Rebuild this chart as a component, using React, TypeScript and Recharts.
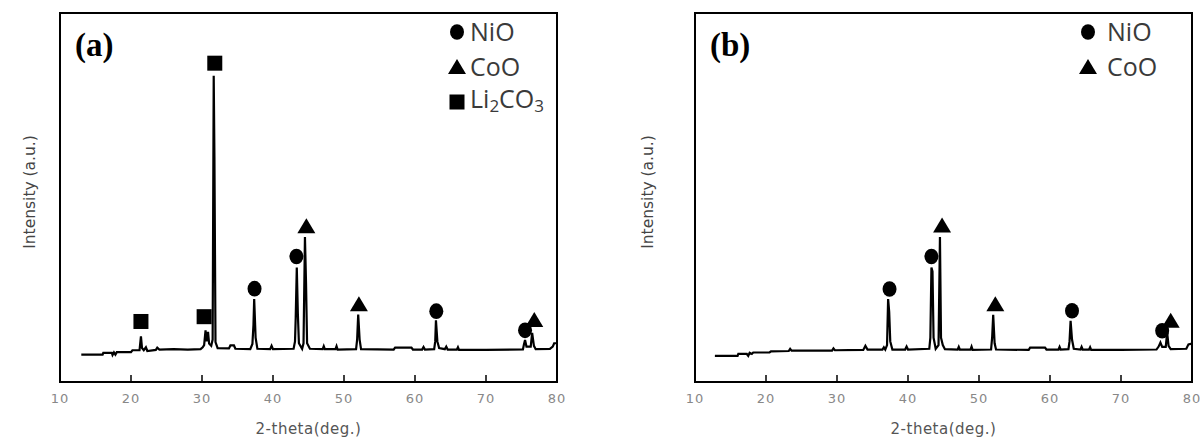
import React from 'react'
import { ComposedChart, Line, Scatter, XAxis, YAxis, ReferenceArea, Legend } from 'recharts'

const xTicks = [10, 20, 30, 40, 50, 60, 70, 80]

// XRD scans: [2-theta (deg.), intensity (a.u., 0-100 of frame)]
const traceA: [number, number][] = [
  [13.0, 7.4], [16.0, 7.4], [16.1, 7.9], [17.3, 7.9], [17.4, 7.3], [17.6, 8.0], [17.8, 7.4], [18.0, 8.1],
  [20.0, 8.1], [20.2, 8.6], [21.2, 8.6], [21.4, 12.4], [21.55, 9.2], [21.8, 8.6], [22.1, 9.4], [22.3, 8.4],
  [23.5, 8.7], [23.7, 9.3], [24.0, 8.8], [26.0, 8.9], [28.0, 8.8], [29.8, 8.9], [30.1, 9.4], [30.3, 10.0],
  [30.5, 14.0], [30.65, 11.0], [30.85, 13.6], [31.0, 10.4], [31.3, 9.8], [31.5, 11.5], [31.65, 83.0],
  [31.75, 61.0], [31.9, 10.8], [32.2, 9.2], [33.8, 9.1], [34.0, 9.9], [34.5, 9.9], [34.7, 9.0],
  [36.8, 8.9], [37.1, 10.3], [37.25, 15.5], [37.35, 22.5], [37.55, 12.0], [37.8, 9.0],
  [39.6, 8.9], [39.8, 9.8], [40.0, 8.9], [42.9, 9.0], [43.1, 11.0], [43.2, 17.5], [43.35, 31.0],
  [43.5, 18.5], [43.65, 10.5], [44.1, 9.0], [44.3, 10.5], [44.5, 39.3], [44.65, 27.0], [44.8, 10.5],
  [45.2, 9.0], [47.0, 8.9], [47.15, 9.7], [47.3, 8.9], [48.8, 8.9], [48.95, 9.7], [49.1, 8.8],
  [51.7, 8.9], [51.85, 11.5], [52.0, 18.3], [52.2, 11.5], [52.4, 8.9], [57.0, 8.8], [57.2, 9.3],
  [59.5, 9.3], [59.7, 8.8], [61.0, 8.8], [61.2, 9.5], [61.4, 8.8], [62.7, 8.9], [62.85, 11.0],
  [62.95, 16.7], [63.15, 11.0], [63.4, 9.2], [64.2, 8.9], [64.4, 9.6], [64.6, 8.8], [65.9, 8.8],
  [66.05, 9.4], [66.2, 8.7], [70.0, 8.7], [75.2, 8.8], [75.35, 10.2], [75.5, 11.4], [75.7, 9.6],
  [76.3, 9.6], [76.5, 13.3], [76.75, 9.8], [77.0, 8.9], [79.0, 9.0], [79.4, 9.6], [79.6, 10.5], [80.0, 10.5],
]

const traceB: [number, number][] = [
  [12.8, 7.1], [16.0, 7.1], [16.1, 7.6], [17.3, 7.6], [17.5, 7.1], [17.7, 7.9], [18.0, 7.6], [18.2, 8.0],
  [20.5, 8.0], [20.7, 8.3], [23.2, 8.4], [23.4, 9.0], [23.6, 8.5], [29.3, 8.5], [29.5, 9.1], [29.7, 8.6],
  [33.7, 8.7], [34.0, 9.8], [34.3, 8.8], [36.4, 8.8], [36.6, 9.4], [36.8, 8.8], [37.05, 10.0],
  [37.2, 22.5], [37.35, 19.0], [37.5, 11.0], [37.8, 8.8], [39.6, 8.8], [39.8, 9.6], [40.0, 8.8],
  [43.0, 9.0], [43.15, 12.0], [43.3, 31.0], [43.45, 30.0], [43.6, 12.0], [43.9, 9.0], [44.3, 10.0],
  [44.5, 39.3], [44.65, 12.0], [44.9, 10.0], [45.2, 8.9], [47.0, 8.8], [47.15, 9.5], [47.3, 8.8],
  [48.8, 8.8], [48.95, 9.6], [49.1, 8.7], [51.7, 8.8], [51.85, 12.0], [52.0, 18.2], [52.2, 10.5],
  [52.4, 8.8], [57.0, 8.7], [57.2, 9.3], [59.3, 9.3], [59.5, 8.8], [61.2, 8.8], [61.35, 9.5], [61.5, 8.8],
  [62.6, 8.9], [62.75, 11.0], [62.9, 16.6], [63.1, 11.5], [63.35, 9.0], [64.3, 8.8], [64.45, 9.5],
  [64.6, 8.8], [65.5, 8.8], [65.65, 9.4], [65.8, 8.7], [70.0, 8.7], [75.0, 8.8], [75.3, 9.6],
  [75.55, 10.7], [75.8, 9.5], [76.3, 9.5], [76.5, 13.4], [76.7, 9.8], [77.0, 8.9], [79.2, 9.0],
  [79.5, 10.2], [80.0, 10.4],
]

// phase markers above the peaks
const nioA: [number, number][] = [[37.4, 25.3], [43.3, 34.0], [63.0, 19.2], [75.5, 14.0]]
const cooA: [number, number][] = [[44.7, 42.2], [52.1, 21.1], [76.8, 16.8]]
const li2co3A: [number, number][] = [[21.4, 16.4], [30.3, 17.7], [31.8, 86.4]]
const nioB: [number, number][] = [[37.4, 25.2], [43.3, 34.0], [63.1, 19.3], [75.8, 13.9]]
const cooB: [number, number][] = [[44.8, 42.4], [52.3, 21.1], [77.0, 16.6]]

const toPts = (arr: [number, number][]) => arr.map(([x, y]) => ({ x, y }))

const symbol = (kind: string, cx: number, cy: number) => {
  if (kind === 'circle') return <ellipse cx={cx} cy={cy} rx={7} ry={7.8} fill="#000" />
  if (kind === 'triangle')
    return <polygon points={`${cx},${cy - 8} ${cx - 9},${cy + 7} ${cx + 9},${cy + 7}`} fill="#000" />
  return <rect x={cx - 7.5} y={cy - 7.5} width={15} height={15} fill="#000" />
}

const markerShape = (kind: string) => (props: any) => symbol(kind, props.cx, props.cy)

const XTick = (props: any) => {
  const { x, y, payload } = props
  const edge = payload.value === 10 || payload.value === 80
  return (
    <g>
      {!edge && <line x1={x} x2={x} y1={y} y2={y - 7} stroke="#000" strokeWidth={1.5} />}
      <text x={x} y={y + 21} textAnchor="middle" fill="#888" fontSize={13} letterSpacing={1}
        fontFamily="'DejaVu Sans', sans-serif">
        {payload.value}
      </text>
    </g>
  )
}

const YLabel = ({ x }: { x: number }) => (
  <text x={x} y={192} transform={`rotate(-90 ${x} 192)`} textAnchor="middle" dominantBaseline="central"
    fill="#444" fontSize={15.5} fontFamily="'DejaVu Sans', sans-serif">
    Intensity (a.u.)
  </text>
)

type Item = { kind: string; label: React.ReactNode }

const LegendBox = ({ items, gap }: { items: Item[]; gap: number }) => (
  <div style={{ fontFamily: "'Open Sans', sans-serif", fontSize: 25, color: '#3a3a3a', lineHeight: '35px' }}>
    {items.map((it, i) => (
      <div key={i} style={{ display: 'flex', alignItems: 'center', height: 35 }}>
        <svg width={20} height={20} style={{ marginRight: gap }}>{symbol(it.kind, 10, 10)}</svg>
        <span>{it.label}</span>
      </div>
    ))}
  </div>
)

type PanelProps = {
  tag: string
  trace: [number, number][]
  markers: { kind: string; data: [number, number][] }[]
  items: Item[]
  yAxisWidth: number
  marginRight: number
  yLabelX: number
  legendLeft: number
  legendGap: number
  tagLeft: number
}

function Panel(p: PanelProps) {
  return (
    <div style={{ position: 'relative', width: 600, height: 437 }}>
      <ComposedChart width={600} height={437} margin={{ top: 13, right: p.marginRight, bottom: 0, left: 0 }}>
        <XAxis dataKey="x" type="number" domain={[10, 80]} ticks={xTicks} interval={0} allowDataOverflow
          axisLine={false} tickLine={false} tickSize={0} tickMargin={0} height={55} tick={<XTick />}
          label={{ value: '2-theta(deg.)', position: 'insideBottom', offset: 3, fill: '#555', fontSize: 15,
            fontFamily: "'DejaVu Sans', sans-serif", letterSpacing: 0.5 }} />
        <YAxis dataKey="y" type="number" domain={[0, 100]} width={p.yAxisWidth} tick={false} axisLine={false}
          tickLine={false} label={<YLabel x={p.yLabelX} />} />
        <ReferenceArea x1={10} x2={80} y1={0} y2={100} fill="none" stroke="#000" strokeWidth={2}
          ifOverflow="visible" />
        <Line data={toPts(p.trace)} dataKey="y" type="linear" stroke="#000" strokeWidth={2.2} dot={false}
          activeDot={false} isAnimationActive={false} />
        {p.markers.map((m, i) => (
          <Scatter key={i} data={toPts(m.data)} dataKey="y" shape={markerShape(m.kind)} isAnimationActive={false} />
        ))}
        <Legend layout="horizontal" verticalAlign="middle" align="center"
          wrapperStyle={{ left: p.legendLeft, top: 14, width: 'auto', height: 'auto' }}
          content={() => <LegendBox items={p.items} gap={p.legendGap} />} />
      </ComposedChart>
      <div style={{ position: 'absolute', left: p.tagLeft, top: 25, fontFamily: "'Liberation Serif', serif",
        fontWeight: 'bold', fontSize: 33, lineHeight: '40px' }}>
        {p.tag}
      </div>
    </div>
  )
}

const li2co3Label = <>Li<sub style={{ fontSize: 17, verticalAlign: '-4px' }}>2</sub>CO<sub style={{ fontSize: 17, verticalAlign: '-4px' }}>3</sub></>

export default function App() {
  return (
    <div style={{ position: 'absolute', left: 0, top: 0, width: 1200, height: 437, background: '#fff', display: 'flex' }}>
      <Panel tag="(a)" trace={traceA}
        markers={[{ kind: 'circle', data: nioA }, { kind: 'triangle', data: cooA }, { kind: 'square', data: li2co3A }]}
        items={[{ kind: 'circle', label: 'NiO' }, { kind: 'triangle', label: 'CoO' }, { kind: 'square', label: li2co3Label }]}
        yAxisWidth={60} marginRight={43} yLabelX={20} legendLeft={447} legendGap={3} tagLeft={75} />
      <Panel tag="(b)" trace={traceB}
        markers={[{ kind: 'circle', data: nioB }, { kind: 'triangle', data: cooB }]}
        items={[{ kind: 'circle', label: 'NiO' }, { kind: 'triangle', label: 'CoO' }]}
        yAxisWidth={95} marginRight={8} yLabelX={58} legendLeft={478} legendGap={9} tagLeft={110} />
    </div>
  )
}
